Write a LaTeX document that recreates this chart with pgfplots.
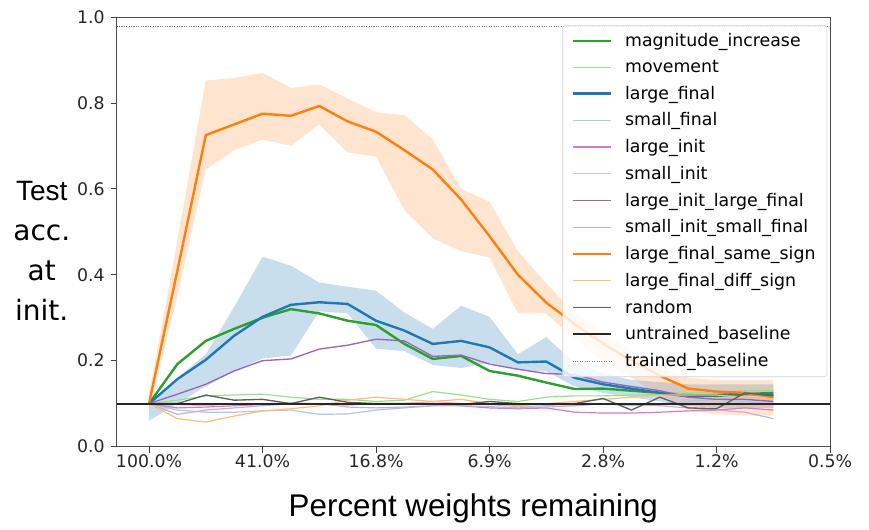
\documentclass[border=0pt]{standalone}
\usepackage{pgfplots}
\pgfplotsset{compat=1.18}
\usepackage{pgfplotstable}
\usepgfplotslibrary{fillbetween}
\usepackage{fontspec}
\setmainfont{DejaVu Sans}
\newfontfamily\labelfont{Liberation Sans}

\definecolor{mplgreen}{HTML}{2CA02C}
\definecolor{mpllgreen}{HTML}{98DF8A}
\definecolor{mplblue}{HTML}{1F77B4}
\definecolor{mpllblue}{HTML}{AEC7E8}
\definecolor{mplpink}{HTML}{D67BC6}
\definecolor{mpllpink}{HTML}{F7B6D2}
\definecolor{mplpurple}{HTML}{9467BD}
\definecolor{mpllpurple}{HTML}{C5B0D5}
\definecolor{mplorange}{HTML}{FF7F0E}
\definecolor{mpllorange}{HTML}{FFBB78}
\definecolor{mplgray}{HTML}{5F5F5F}

% mean test accuracy at initialisation for each mask criterion
\pgfplotstableread{
i  mi    mov   lf    sf    li    si    lilf  sisf  lfss  lfds  rnd
0  0.100 0.100 0.100 0.100 0.100 0.100 0.100 0.100 0.100 0.100 0.100
1  0.192 0.108 0.157 0.085 0.090 0.098 0.122 0.075 0.410 0.065 0.100
2  0.246 0.118 0.202 0.080 0.092 0.095 0.145 0.085 0.725 0.057 0.120
3  0.274 0.120 0.258 0.080 0.095 0.100 0.176 0.090 0.750 0.071 0.108
4  0.300 0.122 0.302 0.083 0.098 0.100 0.200 0.095 0.775 0.083 0.110
5  0.320 0.115 0.330 0.085 0.100 0.102 0.204 0.100 0.770 0.088 0.100
6  0.310 0.110 0.336 0.075 0.100 0.100 0.227 0.100 0.793 0.095 0.115
7  0.293 0.110 0.332 0.076 0.097 0.100 0.236 0.092 0.757 0.108 0.103
8  0.283 0.105 0.293 0.085 0.100 0.098 0.250 0.090 0.733 0.115 0.100
9  0.239 0.108 0.270 0.090 0.100 0.100 0.246 0.092 0.690 0.110 0.100
10 0.204 0.128 0.239 0.095 0.100 0.105 0.210 0.095 0.645 0.105 0.100
11 0.211 0.120 0.246 0.100 0.095 0.100 0.213 0.095 0.575 0.110 0.098
12 0.176 0.110 0.231 0.098 0.090 0.098 0.192 0.093 0.490 0.100 0.105
13 0.165 0.105 0.196 0.093 0.088 0.100 0.180 0.090 0.400 0.095 0.100
14 0.149 0.115 0.198 0.095 0.090 0.100 0.170 0.092 0.335 0.100 0.098
15 0.134 0.118 0.160 0.100 0.080 0.095 0.168 0.095 0.285 0.105 0.100
16 0.135 0.118 0.145 0.100 0.078 0.100 0.150 0.100 0.240 0.110 0.112
17 0.130 0.120 0.135 0.095 0.078 0.098 0.140 0.098 0.200 0.115 0.085
18 0.125 0.122 0.125 0.100 0.080 0.100 0.130 0.095 0.165 0.120 0.115
19 0.120 0.125 0.117 0.105 0.083 0.095 0.115 0.090 0.135 0.120 0.090
20 0.118 0.125 0.120 0.110 0.085 0.098 0.110 0.085 0.128 0.120 0.088
21 0.122 0.130 0.123 0.105 0.090 0.100 0.110 0.080 0.125 0.115 0.125
22 0.125 0.130 0.120 0.100 0.085 0.095 0.105 0.065 0.115 0.110 0.118
}\acc

% spread over runs for large_final_same_sign (o) and large_final (b)
\pgfplotstableread{
i  olo   ohi   blo   bhi
0  0.085 0.120 0.060 0.100
1  0.350 0.480 0.100 0.160
2  0.645 0.852 0.140 0.215
3  0.690 0.858 0.175 0.325
4  0.715 0.870 0.205 0.442
5  0.700 0.835 0.212 0.421
6  0.750 0.843 0.315 0.382
7  0.685 0.810 0.310 0.372
8  0.675 0.778 0.228 0.363
9  0.550 0.772 0.222 0.312
10 0.485 0.715 0.190 0.274
11 0.455 0.600 0.183 0.328
12 0.440 0.570 0.195 0.302
13 0.310 0.455 0.178 0.215
14 0.310 0.380 0.175 0.255
15 0.250 0.310 0.140 0.195
16 0.200 0.265 0.125 0.170
17 0.160 0.225 0.115 0.155
18 0.120 0.185 0.105 0.150
19 0.085 0.160 0.095 0.145
20 0.075 0.155 0.090 0.145
21 0.072 0.155 0.090 0.145
22 0.072 0.155 0.090 0.145
}\spread

\begin{document}
\begin{tikzpicture}
\begin{axis}[
  at={(0,0)}, anchor=south west,
  scale only axis, width=535pt, height=322.1pt,
  xmin=-1.14, xmax=24, ymin=0, ymax=1,
  xtick={0,4,8,12,16,20,24},
  xticklabels={100.0\%,41.0\%,16.8\%,6.9\%,2.8\%,1.2\%,0.5\%},
  ytick={0,0.2,0.4,0.6,0.8,1.0},
  yticklabels={0.0,0.2,0.4,0.6,0.8,1.0},
  xtick pos=bottom, ytick pos=left,
  tick align=outside, major tick length=4.5pt,
  tick style={black!75, line width=0.6pt},
  axis line style={black!70, line width=0.6pt},
  ticklabel style={font=\fontsize{13}{15}\selectfont, text=black!85},
  xticklabel style={yshift=2pt},
  yticklabel style={xshift=-1pt},
  xlabel={\labelfont Percent weights remaining},
  xlabel style={font=\fontsize{23.5}{26}\selectfont, at={(axis description cs:0.5,0)}, anchor=center, yshift=-46pt},
  ylabel={\labelfont Test\\acc.\\at\\init.},
  ylabel style={rotate=-90, font=\fontsize{21}{30}\selectfont, align=center, at={(axis description cs:-0.105,0.455)}, anchor=center},
  every axis plot/.append style={line join=round, mark=none},
  legend cell align=left,
  legend image code/.code={\draw[#1] (0pt,0pt) -- (29pt,0pt);},
  legend style={at={(axis description cs:0.9958,0.9814)}, anchor=north east,
    draw=black!18, rounded corners=2pt, fill=white, fill opacity=0.8, text opacity=1,
    font=\fontsize{13}{15}\selectfont, row sep=4.7pt, column sep=7.5pt,
    inner xsep=6.5pt, inner ysep=4pt},
]
% spread bands
\addplot[draw=none, name path=bhi, forget plot] table[x=i, y=bhi] {\spread};
\addplot[draw=none, name path=blo, forget plot] table[x=i, y=blo] {\spread};
\addplot[fill=mplblue, fill opacity=0.24, draw=none, forget plot] fill between[of=bhi and blo];
\addplot[draw=none, name path=ohi, forget plot] table[x=i, y=ohi] {\spread};
\addplot[draw=none, name path=olo, forget plot] table[x=i, y=olo] {\spread};
\addplot[fill=mplorange, fill opacity=0.2, draw=none, forget plot] fill between[of=ohi and olo];

% mean curves
\addplot[mplgreen, line width=1.8pt] table[x=i, y=mi] {\acc};
\addlegendentry{magnitude\_increase}
\addplot[mpllgreen, line width=0.9pt] table[x=i, y=mov] {\acc};
\addlegendentry{movement}
\addplot[mplblue, line width=1.8pt] table[x=i, y=lf] {\acc};
\addlegendentry{large\_final}
\addplot[mpllblue, line width=0.9pt] table[x=i, y=sf] {\acc};
\addlegendentry{small\_final}
\addplot[mplpink, line width=0.9pt] table[x=i, y=li] {\acc};
\addlegendentry{large\_init}
\addplot[mpllpink, line width=0.9pt] table[x=i, y=si] {\acc};
\addlegendentry{small\_init}
\addplot[mplpurple, line width=1.0pt] table[x=i, y=lilf] {\acc};
\addlegendentry{large\_init\_large\_final}
\addplot[mpllpurple, line width=0.9pt] table[x=i, y=sisf] {\acc};
\addlegendentry{small\_init\_small\_final}
\addplot[mplorange, line width=1.8pt] table[x=i, y=lfss] {\acc};
\addlegendentry{large\_final\_same\_sign}
\addplot[mpllorange, line width=0.9pt] table[x=i, y=lfds] {\acc};
\addlegendentry{large\_final\_diff\_sign}
\addplot[mplgray, line width=1.0pt] table[x=i, y=rnd] {\acc};
\addlegendentry{random}
% reference levels
\addplot[black!85, line width=1.4pt] coordinates {(-1.14,0.099) (24,0.099)};
\addlegendentry{untrained\_baseline}
\addplot[black!55, line width=0.8pt, dash pattern=on 0.8pt off 1pt] coordinates {(-1.14,0.978) (24,0.978)};
\addlegendentry{trained\_baseline}
\end{axis}
\pgfresetboundingbox
\path[use as bounding box] (-87.5pt,-61.9pt) rectangle (564.2pt,334.9pt);
\end{tikzpicture}
\end{document}
